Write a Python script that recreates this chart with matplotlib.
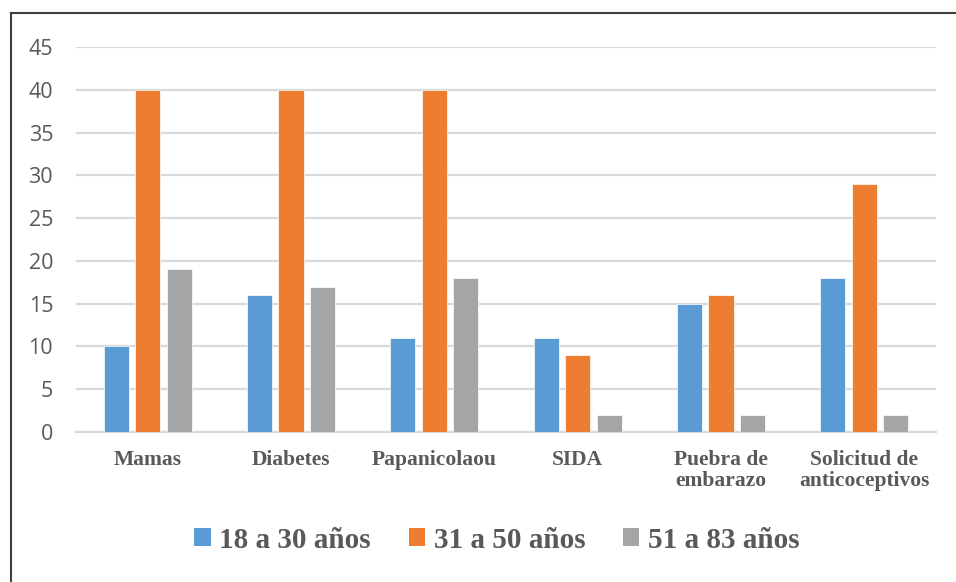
import matplotlib
matplotlib.use("Agg")
import matplotlib.pyplot as plt
from matplotlib.lines import Line2D
from matplotlib.patches import Patch
import numpy as np

categories = ["Mamas", "Diabetes", "Papanicolaou", "SIDA",
              "Puebra de\nembarazo", "Solicitud de\nanticoceptivos"]
series_names = ["18 a 30 años", "31 a 50 años", "51 a 83 años"]
age_18_30 = [10, 16, 11, 11, 15, 18]
age_31_50 = [40, 40, 40, 9, 16, 29]
age_51_83 = [19, 17, 18, 2, 2, 2]
colors = ["#5B9BD5", "#ED7D31", "#A5A5A5"]
y_ticks = [0, 5, 10, 15, 20, 25, 30, 35, 40, 45]

W, H = 956, 582
fig = plt.figure(figsize=(W / 100, H / 100), dpi=100)
ax = fig.add_axes([76 / W, 1 - 432 / H, (936 - 76) / W, (432 - 47) / H])

x = np.arange(len(categories))
width = 0.175
offsets = [-0.22, 0.0, 0.22]
for vals, off, col in zip([age_18_30, age_31_50, age_51_83], offsets, colors):
    ax.bar(x + off, vals, width, color=col, edgecolor="white", linewidth=0.5, zorder=3)

ax.set_xlim(-0.5, len(categories) - 0.5)
ax.set_ylim(0, 45)
ax.set_yticks(y_ticks)
ax.yaxis.grid(True, color="#D9D9D9", linewidth=1.6, zorder=0)
ax.set_axisbelow(True)
for s in ["top", "right", "left"]:
    ax.spines[s].set_visible(False)
ax.spines["bottom"].set_color("#D9D9D9")
ax.spines["bottom"].set_linewidth(1.6)
ax.tick_params(axis="both", length=0)
ax.tick_params(axis="y", pad=16.5, labelsize=15.5, labelcolor="#595959")
for t in ax.get_yticklabels():
    t.set_fontfamily("Open Sans")

ax.set_xticks(x)
ax.set_xticklabels(categories, fontfamily="Liberation Serif", fontweight="bold",
                   fontsize=15.5, color="#595959", linespacing=1.05, va="top")
ax.tick_params(axis="x", pad=13)

handles = [Patch(facecolor=c, edgecolor="none") for c in colors]
leg = fig.legend(handles, series_names, loc="center", bbox_to_anchor=(497 / W, 1 - 540 / H),
                 ncol=3, frameon=False,
                 prop={"family": "Liberation Serif", "weight": "bold", "size": 21},
                 handlelength=0.55, handleheight=0.55, handletextpad=0.3,
                 columnspacing=1.3, labelcolor="#595959")

# chart border
fig.add_artist(Line2D([11 / W, 11 / W], [0, 1 - 13 / H], color="#404040", linewidth=1.5))
fig.add_artist(Line2D([11 / W, 1], [1 - 13 / H, 1 - 13 / H], color="#404040", linewidth=1.5))

fig.savefig("out.png", dpi=100, facecolor="white")
